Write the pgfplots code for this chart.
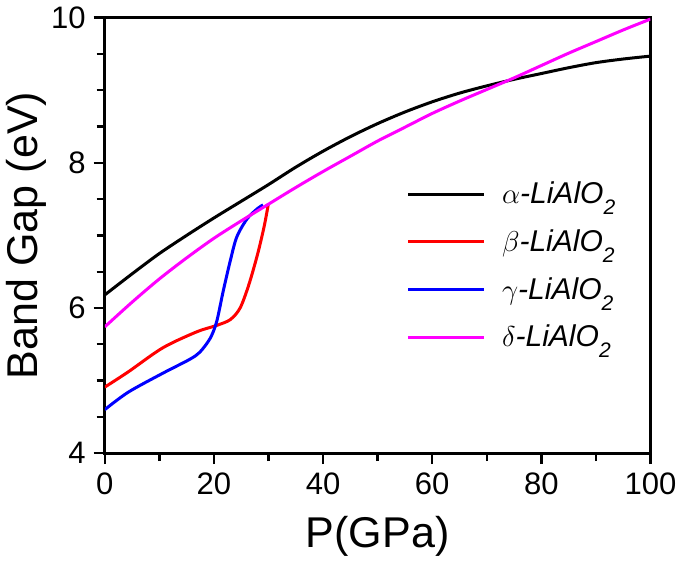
\documentclass[border=0pt]{standalone}
\usepackage{fontspec}
\setmainfont{Liberation Sans}
\usepackage{pgfplots}
\pgfplotsset{compat=1.18}
\definecolor{mag}{RGB}{255,0,255}
\definecolor{rd}{RGB}{255,0,0}
\definecolor{bl}{RGB}{0,0,255}
\newcommand{\sub}[1]{\raisebox{-5.5bp}{\fontsize{10.5bp}{12bp}\selectfont\itshape #1}}
\begin{document}
\begin{tikzpicture}
\begin{axis}[
  scale only axis, width=272.5bp, height=217.5bp,
  xmin=0, xmax=100, ymin=4, ymax=10,
  xtick={0,20,40,60,80,100}, ytick={4,6,8,10},
  minor xtick={10,30,50,70,90},
  minor ytick={4.5,5,5.5,6.5,7,7.5,8.5,9,9.5},
  tick align=outside, xtick pos=bottom, ytick pos=left,
  major tick length=5.5bp, minor tick length=4bp,
  line width=1.5bp,
  every tick/.style={black, line width=1.2bp},
  /pgf/number format/assume math mode=true,
  tick label style={font=\fontsize{15.5bp}{18bp}\selectfont},
  xlabel={P(GPa)}, ylabel={Band Gap (eV)},
  label style={font=\fontsize{21.5bp}{25bp}\selectfont},
  xlabel style={at={(axis description cs:0.5,-0.19)}, anchor=center},
  ylabel style={at={(axis description cs:-0.143,0.5)}, anchor=center},
  legend style={draw=none, fill=none, at={(axis description cs:0.54,0.645)}, anchor=north west,
    font=\fontsize{15bp}{17bp}\selectfont, row sep=7.5bp},
  legend cell align=left,
  legend image code/.code={\draw[#1,line width=1.5bp] (0bp,0bp) -- (37.5bp,0bp); \path (44bp,0bp);},
]
\addplot[black, line width=1.5bp, smooth] coordinates {
(0,6.18) (5,6.47) (10,6.75) (15,7.00) (20,7.24) (25,7.47) (30,7.70) (35,7.94)
(40,8.16) (45,8.36) (50,8.54) (55,8.70) (60,8.84) (65,8.96) (70,9.06) (75,9.15)
(80,9.23) (85,9.31) (90,9.38) (95,9.43) (100,9.47)};
\addlegendentry{$\alpha$\textit{-LiAlO}\sub{2}}
\addplot[rd, line width=1.5bp, smooth] coordinates {
(0,4.91) (4.3,5.12) (10.6,5.45) (16.8,5.67) (20.5,5.76) (23,5.84) (24.8,6.0)
(26.4,6.32) (28,6.74) (29.2,7.12) (30,7.44)};
\addlegendentry{$\beta$\textit{-LiAlO}\sub{2}}
\addplot[bl, line width=1.5bp, smooth] coordinates {
(0,4.60) (4.3,4.84) (10.6,5.10) (15.5,5.29) (17.4,5.39) (19.3,5.58) (20.5,5.81)
(21.7,6.23) (23,6.65) (24.2,6.98) (26.1,7.23) (28,7.37) (29,7.42)};
\addlegendentry{$\gamma$\textit{-LiAlO}\sub{2}}
\addplot[mag, line width=1.5bp, smooth] coordinates {
(0,5.74) (5,6.08) (10,6.40) (15,6.69) (20,6.96) (25,7.20) (30,7.43) (35,7.66)
(40,7.88) (45,8.09) (50,8.30) (55,8.49) (60,8.68) (65,8.85) (70,9.01) (75,9.17)
(80,9.34) (85,9.51) (90,9.67) (95,9.83) (100,9.98)};
\addlegendentry{$\delta$\textit{-LiAlO}\sub{2}}
\end{axis}
\end{tikzpicture}
\end{document}
